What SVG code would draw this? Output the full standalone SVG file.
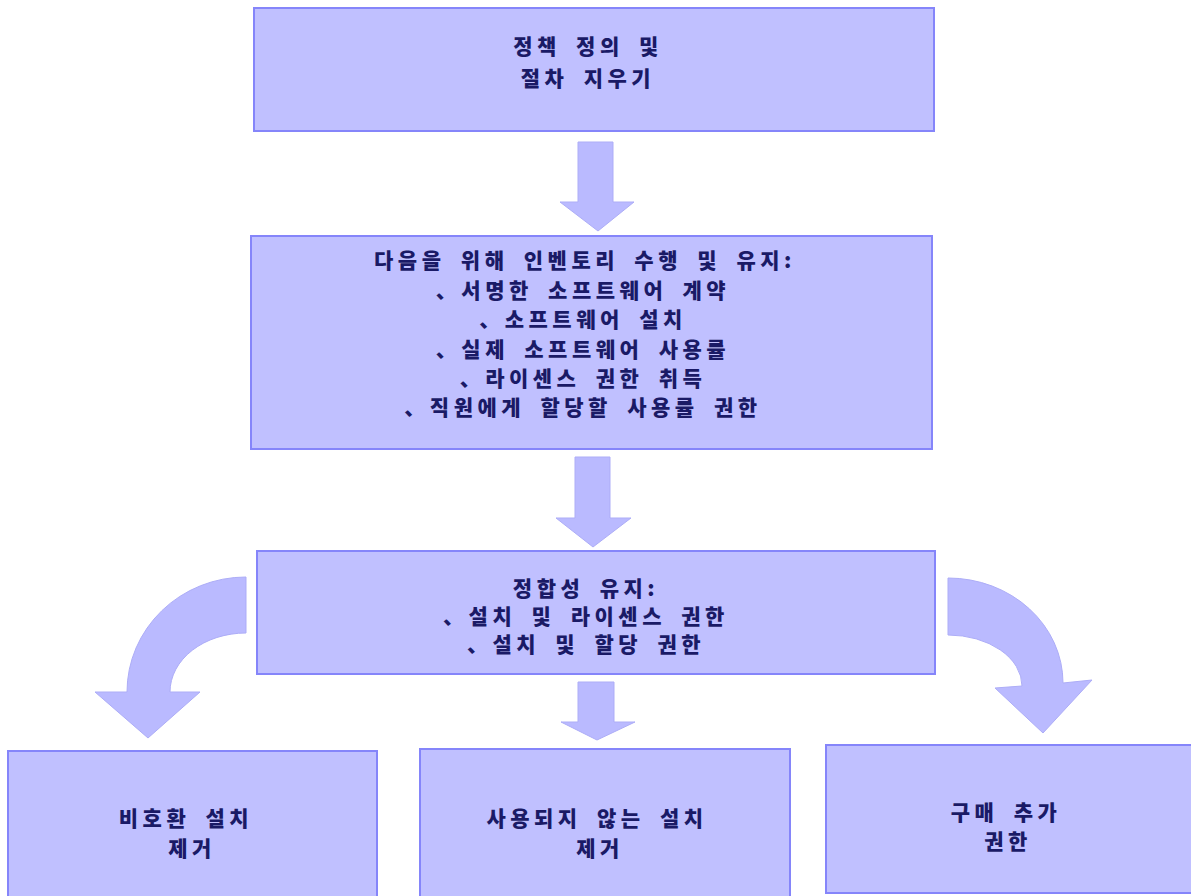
<svg xmlns="http://www.w3.org/2000/svg" width="1191" height="896" viewBox="0 0 1191 896">
<style>
.box{fill:#c0c0ff;stroke:#8585fa;stroke-width:2}
.arr{fill:#babaff;stroke:#adadf7;stroke-width:1}
.t{font-family:"Noto Sans CJK KR","Noto Sans",sans-serif;font-weight:900;font-size:21px;fill:#1a1a66;text-anchor:middle;letter-spacing:4.5px;word-spacing:6px}
</style>
<rect width="1191" height="896" fill="#ffffff"/>
<g id="connectors">
<polygon class="arr" points="578,142 613,142 613,202 634,202 598,231 560,202 578,202"/>
<polygon class="arr" points="575,457 610,457 610,518 631,518 593,547 556,518 575,518"/>
<polygon class="arr" points="578,682 614,682 614,722 635,722 597,740 561,722 578,722"/>
<path class="arr" d="M246,577 A119,115 0 0 0 127,692 L95,692 L148,738 L200,692 L170,692 A76,59 0 0 1 246,633 Z"/>
<path class="arr" d="M948,578 A115,105 0 0 1 1063,683 L1092,680 L1043,733 L995,688 L1022,686 A74,51 0 0 0 948,635 Z"/>
</g>
<g id="node1">
<rect class="box" x="254" y="8" width="680" height="123"/>
<text class="t" x="588" y="54">정책 정의 및</text>
<text class="t" x="588" y="86">절차 지우기</text>
</g>
<g id="node2">
<rect class="box" x="251" y="236" width="681" height="213"/>
<text class="t" x="585" y="268">다음을 위해 인벤토리 수행 및 유지:</text>
<text class="t" x="583" y="298">、서명한 소프트웨어 계약</text>
<text class="t" x="583" y="327">、소프트웨어 설치</text>
<text class="t" x="583" y="357">、실제 소프트웨어 사용률</text>
<text class="t" x="583" y="386">、라이센스 권한 취득</text>
<text class="t" x="583" y="415">、직원에게 할당할 사용률 권한</text>
</g>
<g id="node3">
<rect class="box" x="257" y="551" width="678" height="123"/>
<text class="t" x="586" y="596">정합성 유지:</text>
<text class="t" x="586" y="624">、설치 및 라이센스 권한</text>
<text class="t" x="586" y="652">、설치 및 할당 권한</text>
</g>
<g id="node4">
<rect class="box" x="8" y="751" width="369" height="150"/>
<text class="t" x="186" y="826">비호환 설치</text>
<text class="t" x="192" y="856">제거</text>
</g>
<g id="node5">
<rect class="box" x="420" y="749" width="370" height="150"/>
<text class="t" x="597" y="826">사용되지 않는 설치</text>
<text class="t" x="600" y="856">제거</text>
</g>
<g id="node6">
<rect class="box" x="826" y="745" width="368" height="148"/>
<text class="t" x="1006" y="820">구매 추가</text>
<text class="t" x="1008" y="849">권한</text>
</g>
</svg>
